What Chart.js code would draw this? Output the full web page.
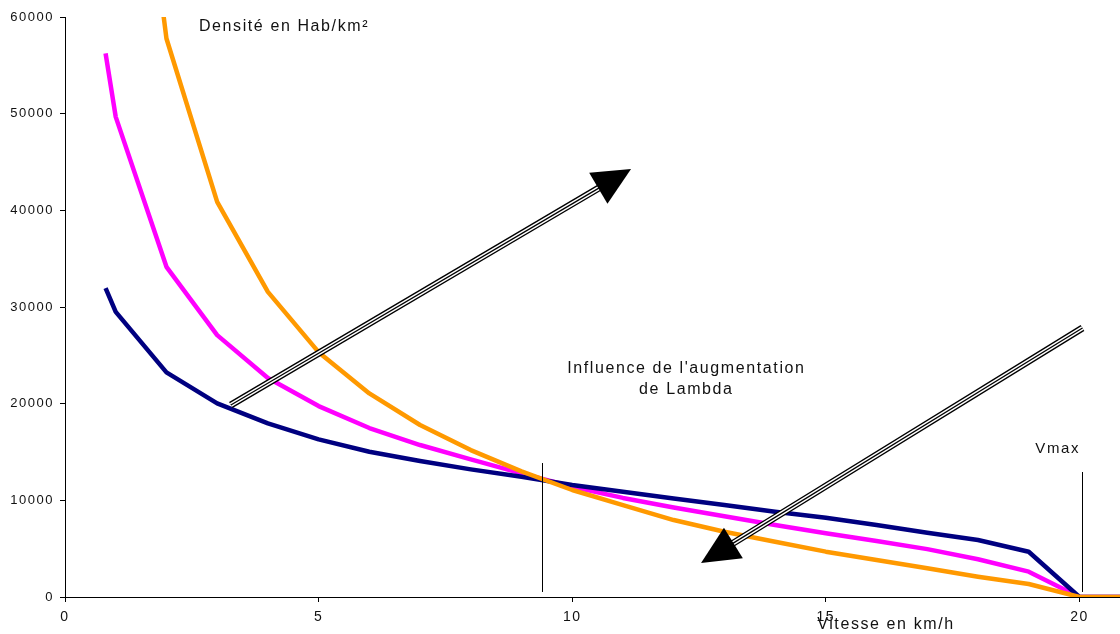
<!DOCTYPE html>
<html lang="fr">
<head>
<meta charset="utf-8">
<title>Densité en fonction de la vitesse</title>
<script src="https://cdn.jsdelivr.net/npm/chart.js@4.4.1/dist/chart.umd.min.js"></script>
<style>
  html, body { margin: 0; padding: 0; background: #fff; overflow: hidden; }
  #zone { width: 1120px; height: 634px; }
</style>
</head>
<body>
<div id="zone"><canvas id="graphe" width="1120" height="634"></canvas></div>
<script>
// vitesses en km/h
const vitesses = [0.8, 1, 2, 3, 4, 5, 6, 7, 8, 9, 10, 11, 12, 13, 14, 15, 16, 17, 18, 19, 20, 21];

// densité (hab/km²) pour trois valeurs de Lambda
const densiteLambdaFort = [null, 99000, 57780, 40880, 31570, 25330, 21060, 17790, 15200, 13000, 11070,
  9510, 7960, 6750, 5720, 4690, 3830, 2970, 2100, 1340, 0, 0];
const densiteLambdaFaible = [31950, 29500, 23240, 20030, 17960, 16310, 15030, 14060, 13200, 12440, 11580,
  10890, 10200, 9510, 8820, 8200, 7450, 6650, 5890, 4680, 0, 0];
const densiteLambdaMoyen = [56230, 49670, 34160, 27090, 22650, 19750, 17480, 15720, 14240, 12790, 11410,
  10250, 9250, 8350, 7450, 6600, 5800, 4950, 3900, 2620, 0, 0];

const ticksX = [0, 5, 10, 15, 20];
const ticksY = [0, 10000, 20000, 30000, 40000, 50000, 60000];

// annotations, en unités du graphique
const reperes = [
  { x: 9.405, de: 520, a: 13860 },
  { x: 20.06, de: 520, a: 12930 }
];
const fleches = [
  { de: [3.27, 19860], a: [11.16, 44270] },
  { de: [20.06, 27830], a: [12.54, 3520] }
];
const POLICE = '"Liberation Sans", Arial, sans-serif';
const textes = [
  { texte: 'Densité en Hab/km²', x: 2.64, y: 58550, align: 'left', taille: 16 },
  { texte: "Influence de l'augmentation", x: 12.25, y: 23170, align: 'center', taille: 16 },
  { texte: 'de Lambda', x: 12.25, y: 21000, align: 'center', taille: 16 },
  { texte: 'Vmax', x: 19.13, y: 14900, align: 'left', taille: 15 },
  { texte: 'Vitesse en km/h', x: 14.83, y: -3310, align: 'left', taille: 16 }
];

function serie(valeurs) {
  return vitesses.map((v, i) => ({ x: v, y: valeurs[i] }));
}

function dessinerFleche(ctx, x1, y1, x2, y2) {
  const dx = x2 - x1, dy = y2 - y1;
  const len = Math.hypot(dx, dy);
  const ux = dx / len, uy = dy / len;
  const fx = x2 - ux * 34, fy = y2 - uy * 34;
  ctx.lineCap = 'butt';
  [[7, '#000'], [4.2, '#fff'], [1.3, '#000']].forEach(([w, c]) => {
    ctx.beginPath();
    ctx.moveTo(x1, y1);
    ctx.lineTo(fx, fy);
    ctx.lineWidth = w;
    ctx.strokeStyle = c;
    ctx.stroke();
  });
  const cx = x2 - ux * 38, cy = y2 - uy * 38;
  ctx.beginPath();
  ctx.moveTo(x2, y2);
  ctx.lineTo(cx - uy * 18, cy + ux * 18);
  ctx.lineTo(cx + uy * 18, cy - ux * 18);
  ctx.closePath();
  ctx.fillStyle = '#000';
  ctx.fill();
}

const pluginAnnotations = {
  id: 'annotations',
  beforeDraw(chart) {
    chart.ctx.letterSpacing = '1.5px';
  },
  afterDatasetsDraw(chart) {
    const ctx = chart.ctx;
    const px = v => chart.scales.x.getPixelForValue(v);
    const py = v => chart.scales.y.getPixelForValue(v);
    ctx.save();

    ctx.strokeStyle = '#000';
    ctx.lineWidth = 1;
    reperes.forEach(r => {
      const x = Math.round(px(r.x)) + 0.5;
      ctx.beginPath();
      ctx.moveTo(x, py(r.de));
      ctx.lineTo(x, py(r.a));
      ctx.stroke();
    });

    fleches.forEach(f => dessinerFleche(ctx, px(f.de[0]), py(f.de[1]), px(f.a[0]), py(f.a[1])));

    ctx.fillStyle = '#111';
    ctx.textBaseline = 'alphabetic';
    ctx.letterSpacing = '1.6px';
    textes.forEach(t => {
      ctx.font = t.taille + 'px ' + POLICE;
      ctx.textAlign = t.align;
      ctx.fillText(t.texte, px(t.x), py(t.y));
    });
    ctx.restore();
  }
};

const axeCommun = {
  grid: { display: true, drawOnChartArea: false, drawTicks: true, tickLength: 5, color: '#000' },
  border: { display: true, color: '#000', width: 1 }
};

new Chart(document.getElementById('graphe'), {
  type: 'line',
  data: {
    datasets: [
      { label: 'Lambda fort', data: serie(densiteLambdaFort), borderColor: '#FF9900' },
      { label: 'Lambda faible', data: serie(densiteLambdaFaible), borderColor: '#000080' },
      { label: 'Lambda moyen', data: serie(densiteLambdaMoyen), borderColor: '#FF00FF' }
    ]
  },
  options: {
    responsive: false,
    animation: false,
    devicePixelRatio: 1,
    layout: { padding: { top: 17, right: 0, bottom: 0, left: 0 } },
    elements: {
      point: { radius: 0, hoverRadius: 0 },
      line: { borderWidth: 4.5, tension: 0, borderJoinStyle: 'round', fill: false }
    },
    plugins: {
      legend: { display: false },
      tooltip: { enabled: false }
    },
    scales: {
      x: {
        type: 'linear',
        min: 0,
        max: 20.8,
        ...axeCommun,
        afterBuildTicks: s => { s.ticks = ticksX.map(v => ({ value: v })); },
        afterFit: s => { s.height = 37; },
        ticks: {
          color: '#111',
          font: { family: POLICE, size: 14 },
          padding: 7,
          maxRotation: 0,
          autoSkip: false,
          callback: v => String(v)
        }
      },
      y: {
        type: 'linear',
        min: 0,
        max: 60000,
        ...axeCommun,
        afterBuildTicks: s => { s.ticks = ticksY.map(v => ({ value: v })); },
        afterFit: s => { s.width = 65; },
        ticks: {
          color: '#111',
          font: { family: POLICE, size: 13 },
          padding: 6,
          callback: v => String(v)
        }
      }
    }
  },
  plugins: [pluginAnnotations]
});
</script>
</body>
</html>
